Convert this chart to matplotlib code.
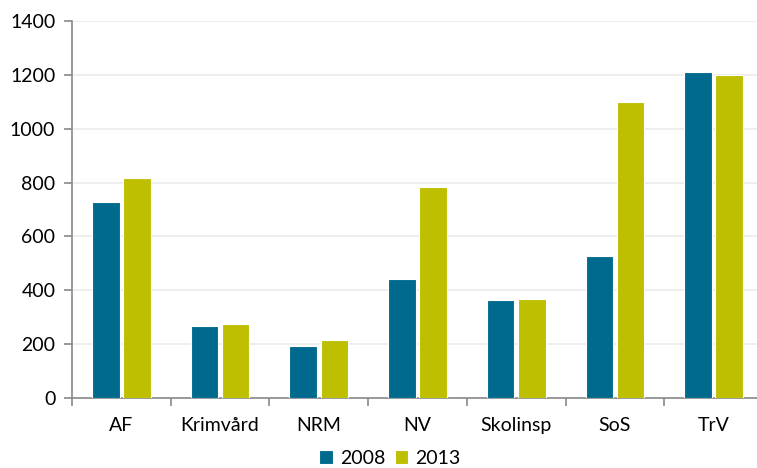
import numpy as np
import matplotlib.pyplot as plt

plt.rcParams['font.family'] = ['Lato', 'DejaVu Sans']

categories = ['AF', 'Krimvård', 'NRM', 'NV', 'Skolinsp', 'SoS', 'TrV']
values_2008 = [726, 266, 193, 441, 363, 526, 1211]
values_2013 = [816, 276, 216, 784, 368, 1098, 1198]

fig = plt.figure(figsize=(7.57, 4.68), dpi=100)
ax = fig.add_axes([72/757, 70/468, 690/757, 377/468])

x = np.arange(len(categories))
w = 0.28
ax.bar(x - 0.158, values_2008, w, color='#006A8E', edgecolor='white', linewidth=0.8, label='2008', zorder=3)
ax.bar(x + 0.158, values_2013, w, color='#BDBF00', edgecolor='white', linewidth=0.8, label='2013', zorder=3)

ax.set_ylim(0, 1400)
ax.set_xlim(-0.5, 6.49)
ax.set_yticks(range(0, 1401, 200))
ax.yaxis.grid(True, color='#EBEBEB', linewidth=1.2, zorder=0)
ax.set_xticks(x)
ax.set_xticklabels(categories)
ax.set_xticks(np.arange(-0.5, 6.5, 1), minor=True)
ax.tick_params(axis='x', which='major', length=0, pad=14, labelsize=14)
ax.tick_params(axis='x', which='minor', length=6, color='#888888', width=1.2)
ax.tick_params(axis='y', length=6, color='#888888', width=1.2, labelsize=14, pad=6)
for s in ['top', 'right']:
    ax.spines[s].set_visible(False)
for s in ['left', 'bottom']:
    ax.spines[s].set_color('#888888')
    ax.spines[s].set_linewidth(1.2)

fig.legend(loc='lower center', bbox_to_anchor=(0.515, -0.035), ncol=2, frameon=False,
           fontsize=14, handlelength=0.7, handleheight=0.7, handletextpad=0.35, columnspacing=0.5)

fig.savefig('out.png', dpi=100)
